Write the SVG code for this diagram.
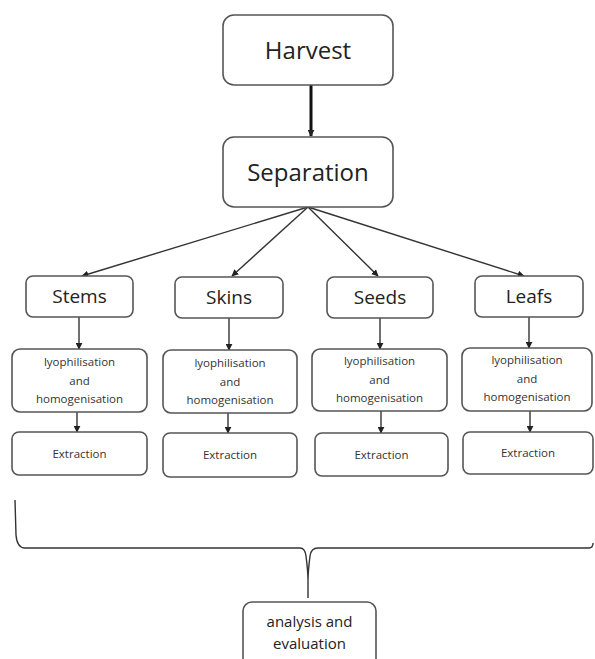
<svg xmlns="http://www.w3.org/2000/svg" width="595" height="659" viewBox="0 0 595 659">
<style>
.box{fill:#fff;stroke:#555;stroke-width:1.6}
.t{font-family:"Open Sans","Noto Sans",sans-serif;fill:#222;text-anchor:middle}
.big{font-size:24px}
.mid{font-size:19px}
.sm{font-size:11.5px;fill:#333}
.ln{stroke:#333;stroke-width:1.4;fill:none}
</style>
<defs>
<marker id="ah" viewBox="0 0 10 10" refX="9" refY="5" markerWidth="7" markerHeight="7" markerUnits="userSpaceOnUse" orient="auto">
<path d="M0,0 L10,5 L0,10 z" fill="#222"/>
</marker>
</defs>
<rect width="595" height="659" fill="#fff"/>
<g id="connectors">
<line x1="311" y1="85" x2="311" y2="136" stroke="#111" stroke-width="3" marker-end="url(#ah)"/>
<line class="ln" x1="308" y1="207" x2="82" y2="276" marker-end="url(#ah)"/>
<line class="ln" x1="308" y1="207" x2="232" y2="276" marker-end="url(#ah)"/>
<line class="ln" x1="308" y1="207" x2="378" y2="276" marker-end="url(#ah)"/>
<line class="ln" x1="308" y1="207" x2="524" y2="276" marker-end="url(#ah)"/>
<line class="ln" x1="79" y1="317" x2="79" y2="349" marker-end="url(#ah)"/>
<line class="ln" x1="229" y1="318" x2="229" y2="350" marker-end="url(#ah)"/>
<line class="ln" x1="380" y1="318" x2="380" y2="349" marker-end="url(#ah)"/>
<line class="ln" x1="529" y1="317" x2="529" y2="348" marker-end="url(#ah)"/>
<line class="ln" x1="77" y1="412" x2="77" y2="432" marker-end="url(#ah)"/>
<line class="ln" x1="228" y1="413" x2="228" y2="433" marker-end="url(#ah)"/>
<line class="ln" x1="381" y1="411" x2="381" y2="433" marker-end="url(#ah)"/>
<line class="ln" x1="530" y1="411" x2="530" y2="432" marker-end="url(#ah)"/>
<path class="ln" stroke="#555" stroke-width="1.6" d="M15,500 L16,535 Q17,548 25,548 L300,548 Q305,548 306,556 Q308,572 308,580 L308,598 M308,580 Q308,572 310,556 Q311,548 318,548 L589,548 Q593,548 593,543"/>
</g>
<g id="harvest"><rect class="box" x="223" y="15" width="170" height="70" rx="11"/><text class="t big" x="308" y="59">Harvest</text></g>
<g id="separation"><rect class="box" x="223" y="137" width="170" height="70" rx="11"/><text class="t big" x="308" y="181">Separation</text></g>
<g id="stems"><rect class="box" x="26" y="276" width="107" height="41" rx="7"/><text class="t mid" x="79.5" y="303">Stems</text></g>
<g id="skins"><rect class="box" x="175" y="277" width="108" height="41" rx="7"/><text class="t mid" x="229" y="304">Skins</text></g>
<g id="seeds"><rect class="box" x="327" y="277" width="106" height="41" rx="7"/><text class="t mid" x="380" y="304">Seeds</text></g>
<g id="leafs"><rect class="box" x="475" y="276" width="108" height="41" rx="7"/><text class="t mid" x="529" y="303">Leafs</text></g>
<g id="lyo1"><rect class="box" x="12" y="349" width="135" height="63" rx="8"/><text class="t sm" x="79.5" y="366">lyophilisation</text><text class="t sm" x="79.5" y="385">and</text><text class="t sm" x="79.5" y="403">homogenisation</text></g>
<g id="lyo2"><rect class="box" x="163" y="350" width="134" height="63" rx="8"/><text class="t sm" x="230" y="367">lyophilisation</text><text class="t sm" x="230" y="386">and</text><text class="t sm" x="230" y="404">homogenisation</text></g>
<g id="lyo3"><rect class="box" x="312" y="349" width="135" height="62" rx="8"/><text class="t sm" x="379.5" y="365">lyophilisation</text><text class="t sm" x="379.5" y="384">and</text><text class="t sm" x="379.5" y="402">homogenisation</text></g>
<g id="lyo4"><rect class="box" x="462" y="348" width="130" height="63" rx="8"/><text class="t sm" x="527" y="364">lyophilisation</text><text class="t sm" x="527" y="383">and</text><text class="t sm" x="527" y="401">homogenisation</text></g>
<g id="ext1"><rect class="box" x="12" y="432" width="135" height="43" rx="7"/><text class="t sm" x="79.5" y="458">Extraction</text></g>
<g id="ext2"><rect class="box" x="163" y="433" width="134" height="44" rx="7"/><text class="t sm" x="230" y="459">Extraction</text></g>
<g id="ext3"><rect class="box" x="315" y="433" width="133" height="43" rx="7"/><text class="t sm" x="381.5" y="459">Extraction</text></g>
<g id="ext4"><rect class="box" x="463" y="432" width="130" height="42" rx="7"/><text class="t sm" x="528" y="457">Extraction</text></g>
<g id="analysis"><rect class="box" x="243" y="602" width="133" height="70" rx="9"/><text class="t" style="font-size:15px" x="309.5" y="627">analysis and</text><text class="t" style="font-size:15px" x="309.5" y="649">evaluation</text></g>
</svg>
